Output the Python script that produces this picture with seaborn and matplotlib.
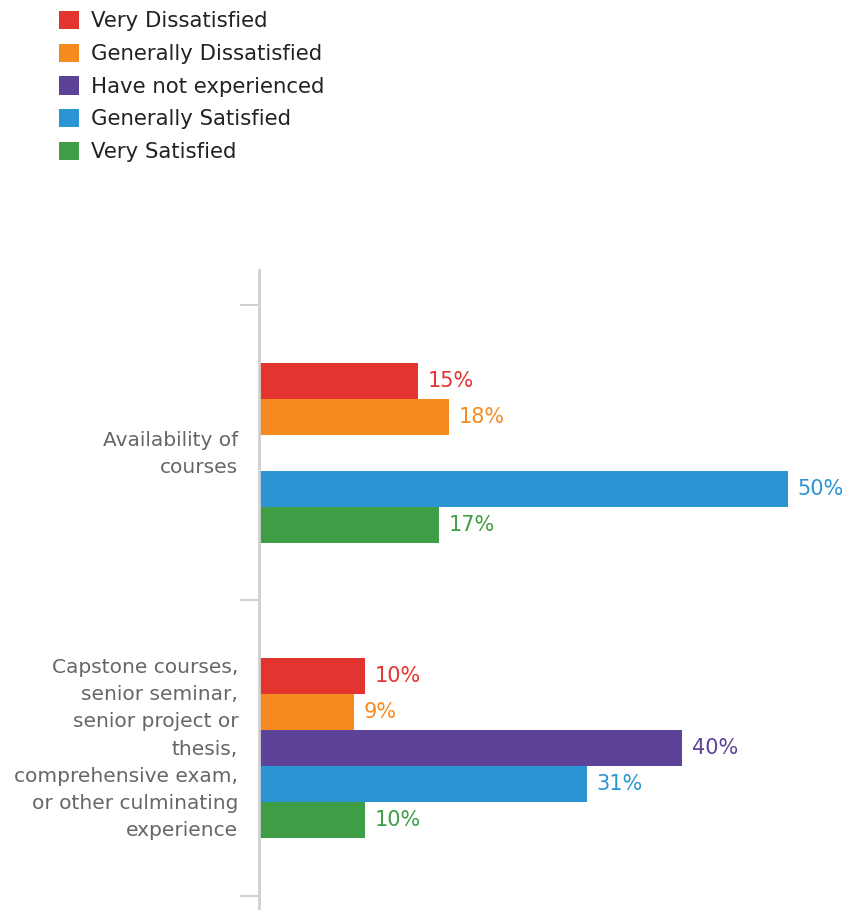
import matplotlib
matplotlib.use("Agg")
import matplotlib.pyplot as plt
import matplotlib.transforms as mtransforms
from matplotlib.patches import Patch
import seaborn as sns
import pandas as pd
import numpy as np

# Survey data
categories = [
    "Availability of\ncourses",
    "Capstone courses,\nsenior seminar,\nsenior project or\nthesis,\ncomprehensive exam,\nor other culminating\nexperience",
]
responses = [
    "Very Dissatisfied",
    "Generally Dissatisfied",
    "Have not experienced",
    "Generally Satisfied",
    "Very Satisfied",
]
very_dissatisfied = [15, 10]
generally_dissatisfied = [18, 9]
have_not_experienced = [np.nan, 40]
generally_satisfied = [50, 31]
very_satisfied = [17, 10]

colors = ["#E3342F", "#F58B1F", "#5C4397", "#2B95D4", "#3F9E45"]

series = [very_dissatisfied, generally_dissatisfied, have_not_experienced,
          generally_satisfied, very_satisfied]
rows = []
for resp, vals in zip(responses, series):
    for cat, v in zip(categories, vals):
        rows.append({"category": cat, "response": resp, "value": v})
df = pd.DataFrame(rows)

sns.set_theme(style="white")
plt.rcParams["font.family"] = ["DejaVu Sans"]

fig = plt.figure(figsize=(8.46, 9.10), dpi=100)
ax = fig.add_axes([259 / 846, 0.0, 1 - 259 / 846, 1 - 270 / 910])

palette = dict(zip(responses, colors))
sns.barplot(data=df, y="category", x="value", hue="response",
            order=categories, hue_order=responses, palette=palette,
            orient="h", width=0.61, gap=0, saturation=1, legend=False,
            linewidth=0, ax=ax)

# Value labels at bar ends, coloured like their bars
for container, color in zip(ax.containers, colors):
    labels = [f"{v:.0f}%" if not np.isnan(v) else "" for v in container.datavalues]
    ax.bar_label(container, labels=labels, padding=7, color=color, fontsize=15)

ax.set_xlim(0, 587 / 10.58)
ax.set_ylim(1.549, -0.62)
ax.set_xlabel("")
ax.set_ylabel("")
ax.set_xticks([])

# Boundary ticks between groups, group names as unmarked labels
ax.set_yticks([-0.5, 0.5, 1.5])
ax.set_yticklabels([])
ax.tick_params(axis="y", which="major", left=True, length=14, width=1.5,
               color="#d0d0d0", direction="out")
ax.set_yticks([0, 1], minor=True)
ax.set_yticklabels(categories, minor=True, fontsize=14.5, color="#666666",
                   linespacing=1.55)
ax.tick_params(axis="y", which="minor", length=0, pad=15)
lift = mtransforms.ScaledTranslation(0, 5 / 100, fig.dpi_scale_trans)
for lbl in ax.get_yticklabels(minor=True):
    lbl.set_transform(lbl.get_transform() + lift)

for s in ["top", "right", "bottom"]:
    ax.spines[s].set_visible(False)
ax.spines["left"].set_color("#d0d0d0")
ax.spines["left"].set_linewidth(2)

handles = [Patch(facecolor=c, edgecolor="none", label=r) for r, c in zip(responses, colors)]
fig.legend(handles=handles, loc="upper left", bbox_to_anchor=(40 / 846, 1 + 8 / 910),
           frameon=False, fontsize=15.3, handlelength=0.93, handleheight=0.93,
           handletextpad=0.55, labelspacing=0.58, labelcolor="#222222")

fig.savefig("out.png", dpi=100)
